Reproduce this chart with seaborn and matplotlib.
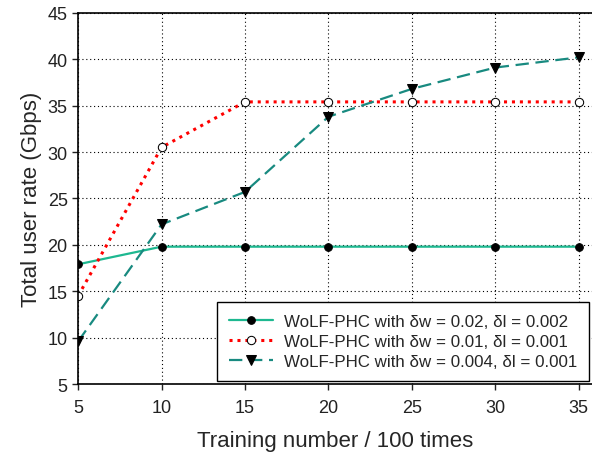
import pandas as pd
import seaborn as sns
import matplotlib.pyplot as plt

# training number (x 100 times)
training = [5, 10, 15, 20, 25, 30, 35]

# total user rate (Gbps) per setting
rate_a = [17.9, 19.8, 19.8, 19.8, 19.8, 19.8, 19.8]
rate_b = [14.5, 30.5, 35.4, 35.4, 35.4, 35.4, 35.4]
rate_c = [9.6, 22.2, 25.7, 33.8, 36.8, 39.1, 40.2]

labels = [
    "WoLF-PHC with δw = 0.02, δl = 0.002",
    "WoLF-PHC with δw = 0.01, δl = 0.001",
    "WoLF-PHC with δw = 0.004, δl = 0.001",
]

sns.set_style("ticks")
plt.rcParams['font.family'] = ['Liberation Sans', 'DejaVu Sans']

fig = plt.figure(figsize=(5.92, 4.6), dpi=100)
ax = fig.add_axes([0.132, 0.163, 0.868, 0.807])

df = pd.DataFrame({"x": training, "a": rate_a, "b": rate_b, "c": rate_c})

sns.lineplot(data=df, x="x", y="a", ax=ax, color="#1db890", lw=1.6,
             marker="o", markersize=5.5, markerfacecolor="black",
             markeredgecolor="black", label=labels[0])
sns.lineplot(data=df, x="x", y="b", ax=ax, color="red", lw=2.2, linestyle=(0, (1, 1.6)),
             marker="o", markersize=6, markerfacecolor="white",
             markeredgecolor="black", label=labels[1])
sns.lineplot(data=df, x="x", y="c", ax=ax, color="#188a80", lw=1.6, linestyle=(0, (6, 3)),
             marker="v", markersize=6.5, markerfacecolor="black",
             markeredgecolor="black", label=labels[2])

ax.set_xlim(5, 35.8)
ax.set_ylim(5, 45)
ax.set_xticks(training)
ax.set_yticks(range(5, 46, 5))
ax.grid(True, color="black", linestyle=(0, (1, 2.5)), lw=0.8)
ax.spines["right"].set_visible(False)
for s in ["left", "bottom", "top"]:
    ax.spines[s].set_color("black")
    ax.spines[s].set_linewidth(1.2)
ax.tick_params(labelsize=13, colors="#222222", length=4, width=1)
ax.tick_params(axis="x", pad=7)

ax.set_xlabel("Training number / 100 times", fontsize=16, labelpad=10)
ax.set_ylabel("Total user rate (Gbps)", fontsize=16, labelpad=4)

leg = ax.legend(loc="lower right", fontsize=12.2, frameon=True, fancybox=False,
                edgecolor="black", borderaxespad=0.2, handlelength=2.6,
                handletextpad=0.6, labelspacing=0.3, borderpad=0.7)
leg.get_frame().set_linewidth(1.0)
leg.get_frame().set_alpha(1)

fig.savefig("out.png", dpi=100)
